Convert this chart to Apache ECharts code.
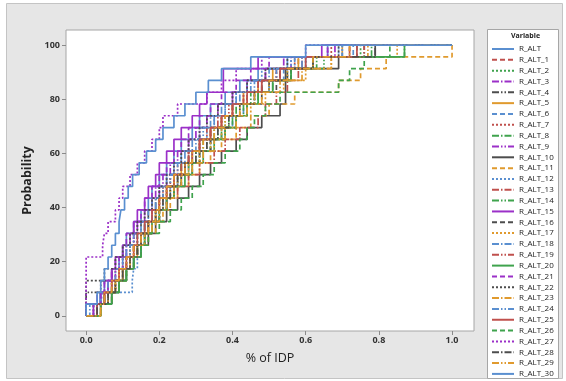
<!DOCTYPE html>
<html>
<head>
<meta charset="utf-8">
<script src="https://cdn.jsdelivr.net/npm/echarts@6/dist/echarts.min.js"></script>
<style>
  html, body { margin: 0; padding: 0; background: #ffffff; }
  #chart { width: 566px; height: 381px; }
</style>
</head>
<body>
<div id="chart"></div>
<script>
// Observed % of IDP for each variable (sorted sample values)
const R_ALT    = [0, 0.038, 0.05, 0.07, 0.09, 0.1, 0.11, 0.13, 0.15, 0.17, 0.18, 0.2, 0.22, 0.24, 0.26, 0.29, 0.31, 0.34, 0.38, 0.42, 0.47, 0.55, 0.66];
const R_ALT_1  = [0.03, 0.05, 0.07, 0.09, 0.11, 0.13, 0.15, 0.16, 0.18, 0.2, 0.22, 0.24, 0.26, 0.28, 0.31, 0.34, 0.37, 0.4, 0.44, 0.48, 0.53, 0.58, 0.72];
const R_ALT_2  = [0.04, 0.06, 0.08, 0.1, 0.12, 0.14, 0.15, 0.17, 0.19, 0.21, 0.23, 0.25, 0.27, 0.3, 0.33, 0.36, 0.39, 0.42, 0.46, 0.5, 0.55, 0.62, 0.75];
const R_ALT_3  = [0, 0.03, 0.05, 0.07, 0.09, 0.11, 0.13, 0.14, 0.16, 0.18, 0.19, 0.21, 0.23, 0.25, 0.28, 0.3, 0.33, 0.36, 0.4, 0.44, 0.49, 0.56, 0.68];
const R_ALT_4  = [0, 0, 0.04, 0.07, 0.1, 0.12, 0.13, 0.15, 0.17, 0.19, 0.21, 0.23, 0.26, 0.28, 0.31, 0.34, 0.37, 0.4, 0.44, 0.48, 0.53, 0.6, 0.76];
const R_ALT_5  = [0.04, 0.05, 0.08, 0.1, 0.12, 0.14, 0.15, 0.17, 0.19, 0.2, 0.22, 0.24, 0.26, 0.29, 0.31, 0.34, 0.37, 0.4, 0.43, 0.47, 0.51, 0.58, 0.7];
const R_ALT_6  = [0.03, 0.06, 0.09, 0.11, 0.13, 0.14, 0.16, 0.18, 0.2, 0.22, 0.24, 0.26, 0.28, 0.31, 0.34, 0.37, 0.4, 0.43, 0.46, 0.5, 0.54, 0.6, 0.73];
const R_ALT_7  = [0.02, 0.04, 0.06, 0.08, 0.1, 0.12, 0.14, 0.16, 0.18, 0.2, 0.21, 0.23, 0.25, 0.28, 0.31, 0.34, 0.37, 0.4, 0.43, 0.47, 0.52, 0.57, 0.67];
const R_ALT_8  = [0.04, 0.07, 0.09, 0.11, 0.13, 0.14, 0.16, 0.18, 0.2, 0.22, 0.24, 0.26, 0.28, 0.31, 0.34, 0.37, 0.4, 0.43, 0.47, 0.51, 0.56, 0.63, 0.87];
const R_ALT_9  = [0.03, 0.05, 0.06, 0.08, 0.1, 0.11, 0.13, 0.14, 0.16, 0.18, 0.2, 0.22, 0.24, 0.26, 0.28, 0.31, 0.33, 0.36, 0.4, 0.44, 0.49, 0.54, 0.66];
const R_ALT_10 = [0.04, 0.07, 0.09, 0.11, 0.13, 0.15, 0.17, 0.19, 0.22, 0.25, 0.28, 0.31, 0.34, 0.37, 0.41, 0.44, 0.48, 0.53, 0.545, 0.545, 0.545, 0.69, 0.79];
const R_ALT_11 = [0.04, 0.07, 0.09, 0.11, 0.13, 0.15, 0.17, 0.19, 0.21, 0.23, 0.25, 0.28, 0.31, 0.34, 0.37, 0.41, 0.45, 0.5, 0.57, 0.69, 0.75, 0.82, 1.0];
const R_ALT_12 = [0.04, 0.044, 0.126, 0.13, 0.14, 0.15, 0.16, 0.18, 0.19, 0.21, 0.23, 0.25, 0.27, 0.29, 0.31, 0.33, 0.35, 0.38, 0.41, 0.44, 0.48, 0.56, 0.69];
const R_ALT_13 = [0.03, 0.05, 0.07, 0.09, 0.11, 0.13, 0.15, 0.17, 0.2, 0.22, 0.25, 0.28, 0.31, 0.35, 0.38, 0.42, 0.47, 0.49, 0.52, 0.55, 0.58, 0.62, 0.72];
const R_ALT_14 = [0.02, 0.05, 0.07, 0.09, 0.11, 0.12, 0.14, 0.16, 0.18, 0.2, 0.22, 0.24, 0.26, 0.29, 0.32, 0.35, 0.38, 0.41, 0.45, 0.5, 0.56, 0.65, 0.78];
const R_ALT_15 = [0.02, 0.04, 0.06, 0.07, 0.08, 0.1, 0.12, 0.13, 0.14, 0.16, 0.17, 0.19, 0.2, 0.22, 0.24, 0.26, 0.29, 0.31, 0.33, 0.375, 0.375, 0.47, 0.644];
const R_ALT_16 = [0.03, 0.06, 0.08, 0.1, 0.12, 0.14, 0.16, 0.18, 0.2, 0.22, 0.24, 0.26, 0.29, 0.31, 0.34, 0.38, 0.41, 0.44, 0.48, 0.52, 0.56, 0.62, 0.74];
const R_ALT_17 = [0.04, 0.06, 0.08, 0.1, 0.12, 0.13, 0.15, 0.17, 0.19, 0.21, 0.23, 0.25, 0.28, 0.31, 0.34, 0.37, 0.41, 0.45, 0.49, 0.54, 0.6, 0.67, 0.85];
const R_ALT_18 = [0.01, 0.04, 0.06, 0.08, 0.1, 0.11, 0.13, 0.15, 0.17, 0.18, 0.2, 0.22, 0.24, 0.26, 0.29, 0.31, 0.34, 0.37, 0.41, 0.45, 0.5, 0.57, 0.7];
const R_ALT_19 = [0.03, 0.05, 0.07, 0.09, 0.11, 0.13, 0.15, 0.17, 0.18, 0.2, 0.22, 0.24, 0.26, 0.28, 0.31, 0.33, 0.36, 0.39, 0.43, 0.47, 0.52, 0.59, 0.76];
const R_ALT_20 = [0.04, 0.07, 0.09, 0.11, 0.13, 0.15, 0.16, 0.18, 0.2, 0.22, 0.24, 0.27, 0.29, 0.32, 0.35, 0.38, 0.41, 0.44, 0.47, 0.51, 0.56, 0.62, 0.87];
const R_ALT_21 = [0.02, 0.04, 0.05, 0.07, 0.08, 0.1, 0.11, 0.13, 0.15, 0.16, 0.18, 0.2, 0.22, 0.24, 0.26, 0.28, 0.31, 0.34, 0.37, 0.41, 0.45, 0.5, 0.66];
const R_ALT_22 = [0, 0, 0, 0.05, 0.08, 0.1, 0.12, 0.14, 0.16, 0.18, 0.2, 0.22, 0.24, 0.26, 0.28, 0.31, 0.33, 0.36, 0.4, 0.44, 0.49, 0.55, 0.69];
const R_ALT_23 = [0.04, 0.05, 0.08, 0.1, 0.12, 0.14, 0.16, 0.18, 0.2, 0.22, 0.24, 0.26, 0.29, 0.32, 0.35, 0.38, 0.41, 0.44, 0.48, 0.53, 0.59, 0.67, 0.77];
const R_ALT_24 = [0.03, 0.05, 0.07, 0.09, 0.11, 0.12, 0.14, 0.16, 0.18, 0.19, 0.21, 0.23, 0.25, 0.27, 0.3, 0.32, 0.35, 0.38, 0.42, 0.46, 0.52, 0.59, 0.7];
const R_ALT_25 = [0.03, 0.05, 0.07, 0.09, 0.11, 0.13, 0.14, 0.16, 0.18, 0.2, 0.22, 0.24, 0.27, 0.29, 0.31, 0.34, 0.37, 0.4, 0.44, 0.48, 0.53, 0.6, 0.74];
const R_ALT_26 = [0.04, 0.07, 0.09, 0.11, 0.13, 0.15, 0.17, 0.2, 0.23, 0.26, 0.29, 0.32, 0.35, 0.38, 0.42, 0.44, 0.46, 0.49, 0.53, 0.69, 0.72, 0.76, 0.83];
const R_ALT_27 = [0, 0, 0, 0, 0, 0.045, 0.05, 0.06, 0.08, 0.09, 0.1, 0.12, 0.14, 0.16, 0.18, 0.2, 0.21, 0.25, 0.33, 0.37, 0.41, 0.48, 0.6];
const R_ALT_28 = [0.03, 0.06, 0.08, 0.1, 0.12, 0.14, 0.15, 0.17, 0.19, 0.21, 0.23, 0.25, 0.27, 0.3, 0.33, 0.36, 0.39, 0.42, 0.46, 0.5, 0.55, 0.62, 0.79];
const R_ALT_29 = [0.04, 0.05, 0.07, 0.09, 0.11, 0.13, 0.15, 0.17, 0.19, 0.2, 0.22, 0.24, 0.27, 0.29, 0.32, 0.35, 0.38, 0.42, 0.46, 0.5, 0.55, 0.62, 0.72];
const R_ALT_30 = [0, 0.03, 0.04, 0.05, 0.06, 0.07, 0.08, 0.09, 0.095, 0.105, 0.115, 0.127, 0.145, 0.165, 0.19, 0.21, 0.24, 0.27, 0.3, 0.334, 0.37, 0.45, 0.6];

const variableNames = ['R_ALT', 'R_ALT_1', 'R_ALT_2', 'R_ALT_3', 'R_ALT_4', 'R_ALT_5', 'R_ALT_6', 'R_ALT_7',
  'R_ALT_8', 'R_ALT_9', 'R_ALT_10', 'R_ALT_11', 'R_ALT_12', 'R_ALT_13', 'R_ALT_14', 'R_ALT_15', 'R_ALT_16',
  'R_ALT_17', 'R_ALT_18', 'R_ALT_19', 'R_ALT_20', 'R_ALT_21', 'R_ALT_22', 'R_ALT_23', 'R_ALT_24', 'R_ALT_25',
  'R_ALT_26', 'R_ALT_27', 'R_ALT_28', 'R_ALT_29', 'R_ALT_30'];
const samples = [R_ALT, R_ALT_1, R_ALT_2, R_ALT_3, R_ALT_4, R_ALT_5, R_ALT_6, R_ALT_7, R_ALT_8, R_ALT_9,
  R_ALT_10, R_ALT_11, R_ALT_12, R_ALT_13, R_ALT_14, R_ALT_15, R_ALT_16, R_ALT_17, R_ALT_18, R_ALT_19,
  R_ALT_20, R_ALT_21, R_ALT_22, R_ALT_23, R_ALT_24, R_ALT_25, R_ALT_26, R_ALT_27, R_ALT_28, R_ALT_29, R_ALT_30];

const xTicks = [0, 0.2, 0.4, 0.6, 0.8, 1.0];
const yTicks = [0, 20, 40, 60, 80, 100];

// Colour and dash cycles (6 colours, 5 line patterns)
const palette = ['#5a8fd0', '#c0504d', '#3fa34d', '#9b30c8', '#4d4d4d', '#e09a2e'];
const dashes = ['solid', [5, 3], [2, 2], [7, 2, 1.5, 2], [7, 2, 1.5, 2, 1.5, 2]];

// Empirical CDF as step points; each line spans the pooled data range
const allValues = samples.flat();
const gMin = Math.min(...allValues);
const gMax = Math.max(...allValues);
function ecdfPoints(vals) {
  const n = vals.length;
  const pts = [[gMin, 0]];
  for (let i = 0; i < n; i++) {
    if (i < n - 1 && vals[i + 1] === vals[i]) continue;
    pts.push([vals[i], (i + 1) / n * 100]);
  }
  if (vals[n - 1] < gMax) pts.push([gMax, 100]);
  return pts;
}

const series = samples.map((vals, i) => ({
  name: variableNames[i],
  type: 'line',
  step: 'end',
  symbol: 'none',
  data: ecdfPoints(vals),
  lineStyle: { color: palette[i % 6], width: 1.7, type: dashes[i % 5] },
  itemStyle: { color: palette[i % 6] },
  emphasis: { disabled: true },
  animation: false
}));

const chart = echarts.init(document.getElementById('chart'), null, { renderer: 'canvas' });
const fontFam = '"Open Sans", "Noto Sans", sans-serif';
chart.setOption({
  backgroundColor: '#ffffff',
  animation: false,
  graphic: [
    { type: 'rect', z: -10, shape: { x: 6.5, y: 3.5, width: 556, height: 375 },
      style: { fill: '#e6e6e6', stroke: '#c4c4c4', lineWidth: 1 } },
    { type: 'rect', z: -5, shape: { x: 487.5, y: 29.5, width: 71, height: 349 },
      style: { fill: '#ffffff', stroke: '#a6a6a6', lineWidth: 1 } },
    { type: 'text', left: 511, top: 32,
      style: { text: 'Variable', font: 'bold 7px ' + fontFam, fill: '#222' } }
  ],
  grid: { left: 66, top: 30, right: 92, bottom: 50, show: true, backgroundColor: '#ffffff', borderColor: '#a6a6a6', borderWidth: 1 },
  legend: {
    orient: 'vertical', left: 491, top: 45, height: 360, padding: 0,
    itemWidth: 22, itemHeight: 8, itemGap: 2.83,
    itemStyle: { opacity: 0 },
    lineStyle: { width: 2 },
    textStyle: { fontSize: 8, color: '#222', fontFamily: fontFam },
    data: variableNames,
    selectedMode: false
  },
  xAxis: {
    type: 'value', min: -0.055, max: 1.06,
    name: '% of IDP', nameLocation: 'middle', nameGap: 21,
    nameTextStyle: { fontSize: 12.5, color: '#222', fontFamily: fontFam },
    axisLine: { show: false, onZero: false },
    splitLine: { show: false },
    axisTick: { show: true, customValues: xTicks, length: 4, lineStyle: { color: '#8a8a8a' } },
    axisLabel: { customValues: xTicks, formatter: v => v.toFixed(1), fontSize: 9, fontWeight: 'bold', color: '#333', fontFamily: fontFam, margin: 5 }
  },
  yAxis: {
    type: 'value', min: -5.6, max: 105.6,
    name: 'Probability', nameLocation: 'middle', nameGap: 29,
    nameTextStyle: { fontSize: 12.5, color: '#222', fontFamily: fontFam, fontWeight: 'bold' },
    axisLine: { show: false, onZero: false },
    splitLine: { show: false },
    axisTick: { show: true, customValues: yTicks, length: 4, lineStyle: { color: '#8a8a8a' } },
    axisLabel: { customValues: yTicks, fontSize: 9, fontWeight: 'bold', color: '#333', fontFamily: fontFam, margin: 6 }
  },
  series: series
});
</script>
</body>
</html>
